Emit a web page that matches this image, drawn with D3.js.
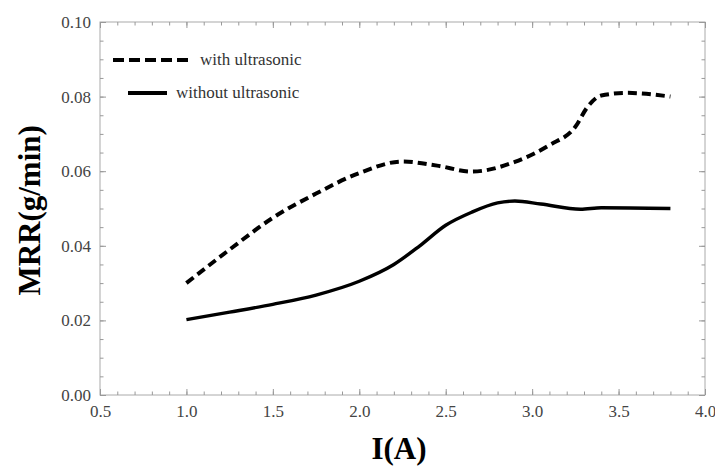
<!DOCTYPE html>
<html>
<head>
<meta charset="utf-8">
<script src="https://cdn.jsdelivr.net/npm/d3@7"></script>
<style>
  body { margin: 0; background: #fff; }
  svg { display: block; }
</style>
</head>
<body>
<div id="chart"></div>
<script>
  // current I(A) and MRR(g/min)
  var withI   = [1.0, 1.25, 1.5, 1.75, 2.0, 2.25, 2.45, 2.65, 2.9, 3.1, 3.25, 3.32, 3.4, 3.55, 3.8];
  var withMRR = [0.030, 0.039, 0.0475, 0.054, 0.0595, 0.0626, 0.0615, 0.0599, 0.0625, 0.067, 0.0719, 0.0772, 0.0803, 0.081, 0.080];

  var woI   = [1.0, 1.25, 1.5, 1.75, 2.0, 2.2, 2.35, 2.5, 2.65, 2.8, 2.9, 3.05, 3.28, 3.4, 3.8];
  var woMRR = [0.0202, 0.0222, 0.0243, 0.0268, 0.0305, 0.035, 0.040, 0.0455, 0.049, 0.0515, 0.052, 0.0512, 0.0498, 0.0502, 0.050];

  var seriesNames = ["with ultrasonic", "without ultrasonic"];
  var xTicks = [0.5, 1.0, 1.5, 2.0, 2.5, 3.0, 3.5, 4.0];
  var yTicks = [0.00, 0.02, 0.04, 0.06, 0.08, 0.10];

  var serif = "'Liberation Serif', 'Times New Roman', Times, serif";

  var fullWidth = 715, fullHeight = 467;
  var margin = {top: 22, right: 10, bottom: 72, left: 100};
  var width = fullWidth - margin.left - margin.right;
  var height = fullHeight - margin.top - margin.bottom;

  var svg = d3.select("#chart")
              .append("svg")
              .attr("width", fullWidth)
              .attr("height", fullHeight)
              .append("g")
              .attr("transform", "translate(" + margin.left + "," + margin.top + ")");

  var xScale = d3.scaleLinear().domain([0.5, 4.0]).range([0, width]);
  var yScale = d3.scaleLinear().domain([0, 0.10]).range([height, 0]);

  // minor ticks every 0.1 on x, 0.005 on y
  var xMinor = d3.range(5, 41).map(function(d) { return d / 10; });
  var yMinor = d3.range(0, 21).map(function(d) { return d * 0.005; });

  function minor(ax) { return ax.tickSize(-3.5).tickFormat(""); }

  // frame
  svg.append("rect")
     .attr("width", width).attr("height", height)
     .attr("fill", "none").attr("stroke", "#aaa");

  svg.append("g").attr("class", "axis").attr("transform", "translate(0," + height + ")")
     .call(minor(d3.axisBottom(xScale).tickValues(xMinor)));
  svg.append("g").attr("class", "axis").attr("transform", "translate(0," + height + ")")
     .call(d3.axisBottom(xScale).tickValues(xTicks).tickSize(-6).tickPadding(10).tickFormat(d3.format(".1f")));
  svg.append("g").attr("class", "axis")
     .call(minor(d3.axisTop(xScale).tickValues(xMinor)));
  svg.append("g").attr("class", "axis")
     .call(d3.axisTop(xScale).tickValues(xTicks).tickSize(-6).tickFormat(""));

  svg.append("g").attr("class", "axis")
     .call(minor(d3.axisLeft(yScale).tickValues(yMinor)));
  svg.append("g").attr("class", "axis")
     .call(d3.axisLeft(yScale).tickValues(yTicks).tickSize(-6).tickPadding(9).tickFormat(d3.format(".2f")));
  svg.append("g").attr("class", "axis").attr("transform", "translate(" + width + ",0)")
     .call(minor(d3.axisRight(yScale).tickValues(yMinor)));
  svg.append("g").attr("class", "axis").attr("transform", "translate(" + width + ",0)")
     .call(d3.axisRight(yScale).tickValues(yTicks).tickSize(-6).tickFormat(""));

  svg.selectAll(".axis .domain").remove();
  svg.selectAll(".axis line").attr("stroke", "#999");
  svg.selectAll(".axis").attr("font-family", serif).attr("font-size", 17);
  svg.selectAll(".axis text").attr("fill", "#444");

  var line = d3.line()
               .x(function(d) { return xScale(d[0]); })
               .y(function(d) { return yScale(d[1]); })
               .curve(d3.curveMonotoneX);

  var withData = withI.map(function(d, i) { return [d, withMRR[i]]; });
  var woData = woI.map(function(d, i) { return [d, woMRR[i]]; });

  svg.append("path").datum(withData)
     .attr("d", line).attr("fill", "none")
     .attr("stroke", "#000").attr("stroke-width", 4)
     .attr("stroke-dasharray", "9,5");

  svg.append("path").datum(woData)
     .attr("d", line).attr("fill", "none")
     .attr("stroke", "#000").attr("stroke-width", 3.4);

  // legend
  var lg = svg.append("g").attr("transform", "translate(" + (-margin.left) + "," + (-margin.top) + ")");
  lg.append("line").attr("x1", 113).attr("x2", 190).attr("y1", 60).attr("y2", 60)
    .attr("stroke", "#000").attr("stroke-width", 4).attr("stroke-dasharray", "11,5");
  lg.append("line").attr("x1", 128).attr("x2", 167).attr("y1", 93).attr("y2", 93)
    .attr("stroke", "#000").attr("stroke-width", 4);
  lg.append("text").attr("x", 200).attr("y", 65).text(seriesNames[0]);
  lg.append("text").attr("x", 176).attr("y", 98).text(seriesNames[1]);
  lg.selectAll("text")
    .attr("font-family", serif)
    .attr("font-size", 17).attr("fill", "#333");

  // axis titles
  svg.append("text")
     .attr("x", xScale(2.23)).attr("y", height + 64)
     .attr("text-anchor", "middle")
     .attr("font-family", serif)
     .attr("font-weight", "bold").attr("font-size", 31)
     .text("I(A)");

  svg.append("text")
     .attr("transform", "translate(" + (-60) + "," + (yScale(0.0495)) + ") rotate(-90)")
     .attr("text-anchor", "middle")
     .attr("font-family", serif)
     .attr("font-weight", "bold").attr("font-size", 31)
     .text("MRR(g/min)");
</script>
</body>
</html>
